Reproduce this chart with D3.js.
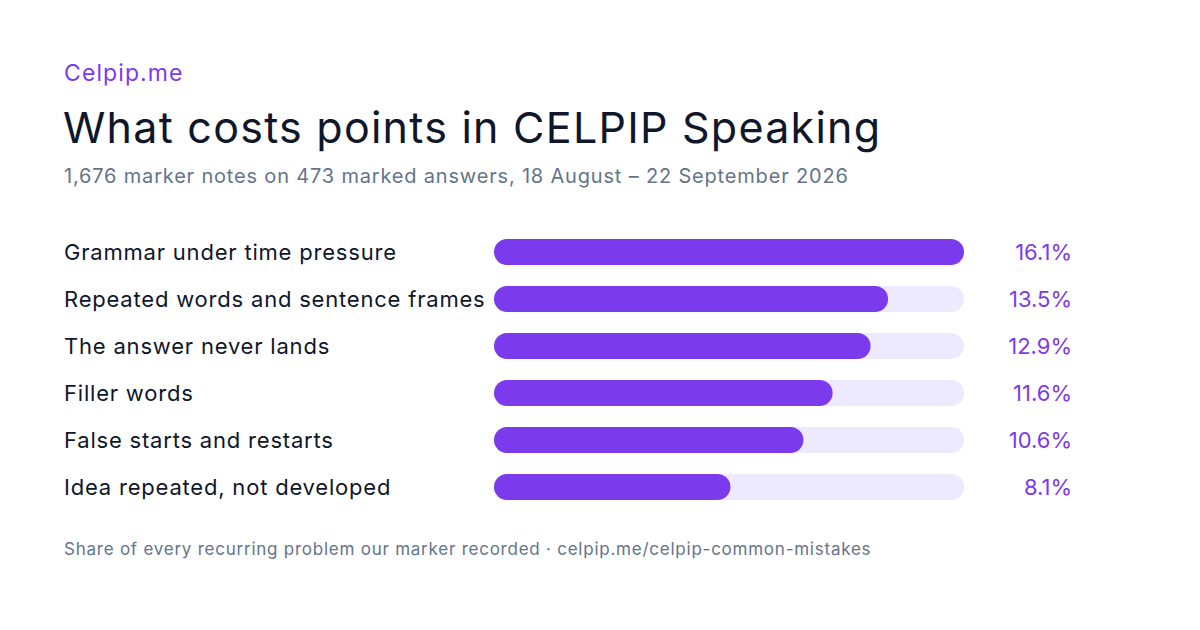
<!DOCTYPE html>
<html><head><meta charset="utf-8">
<script src="https://cdn.jsdelivr.net/npm/d3@7"></script>
<style>html,body{margin:0;padding:0;background:#fff;}svg{display:block;font-family:Inter,"Noto Sans",sans-serif;}</style>
</head><body>
<svg id="c" width="1200" height="630"></svg>
<script>
const categories = ["Grammar under time pressure","Repeated words and sentence frames","The answer never lands","Filler words","False starts and restarts","Idea repeated, not developed"];
const values = [16.1,13.5,12.9,11.6,10.6,8.1];
const valueLabels = ["16.1%","13.5%","12.9%","11.6%","10.6%","8.1%"];

const svg = d3.select("#c");
svg.append("rect").attr("width",1200).attr("height",630).attr("fill","#fff");
svg.append("text").attr("x",64).attr("y",81).attr("font-size",23).attr("letter-spacing",1.1).attr("fill","#7c3aed").text("Celpip.me");
svg.append("text").attr("x",63).attr("y",143).attr("font-size",43).attr("letter-spacing",1.25).attr("fill","#0f172a").text("What costs points in CELPIP Speaking");
svg.append("text").attr("x",64).attr("y",183).attr("font-size",20).attr("letter-spacing",0.82).attr("fill","#64748b").text("1,676 marker notes on 473 marked answers, 18 August – 22 September 2026");

const x = d3.scaleLinear().domain([0,d3.max(values)]).range([494,964]);
const y = d3.scaleBand().domain(categories).range([228.5,510.5]).paddingInner(0.447).paddingOuter(0.2235);
const bh = 26;
const g = svg.append("g");
const rows = g.selectAll("g.row").data(categories).join("g").attr("class","row");
rows.append("rect").attr("x",x(0)).attr("y",d=>y(d)+y.bandwidth()/2-bh/2).attr("width",x.range()[1]-x(0)).attr("height",bh).attr("rx",bh/2).attr("fill","#ede9fe");
rows.append("rect").attr("x",x(0)).attr("y",d=>y(d)+y.bandwidth()/2-bh/2).attr("width",(d,i)=>x(values[i])-x(0)).attr("height",bh).attr("rx",bh/2).attr("fill","#7c3aed");
rows.append("text").attr("x",64).attr("y",d=>y(d)+y.bandwidth()/2).attr("dy","0.35em").attr("font-size",22).attr("letter-spacing",0.8).attr("fill","#0f172a").text(d=>d);
rows.append("text").attr("x",1072).attr("y",d=>y(d)+y.bandwidth()/2).attr("dy","0.35em").attr("text-anchor","end").attr("font-size",22).attr("fill","#7c3aed").text((d,i)=>valueLabels[i]);
svg.append("text").attr("x",64).attr("y",555).attr("font-size",17).attr("letter-spacing",0.76).attr("fill","#64748b").text("Share of every recurring problem our marker recorded · celpip.me/celpip-common-mistakes");
</script>
</body></html>
